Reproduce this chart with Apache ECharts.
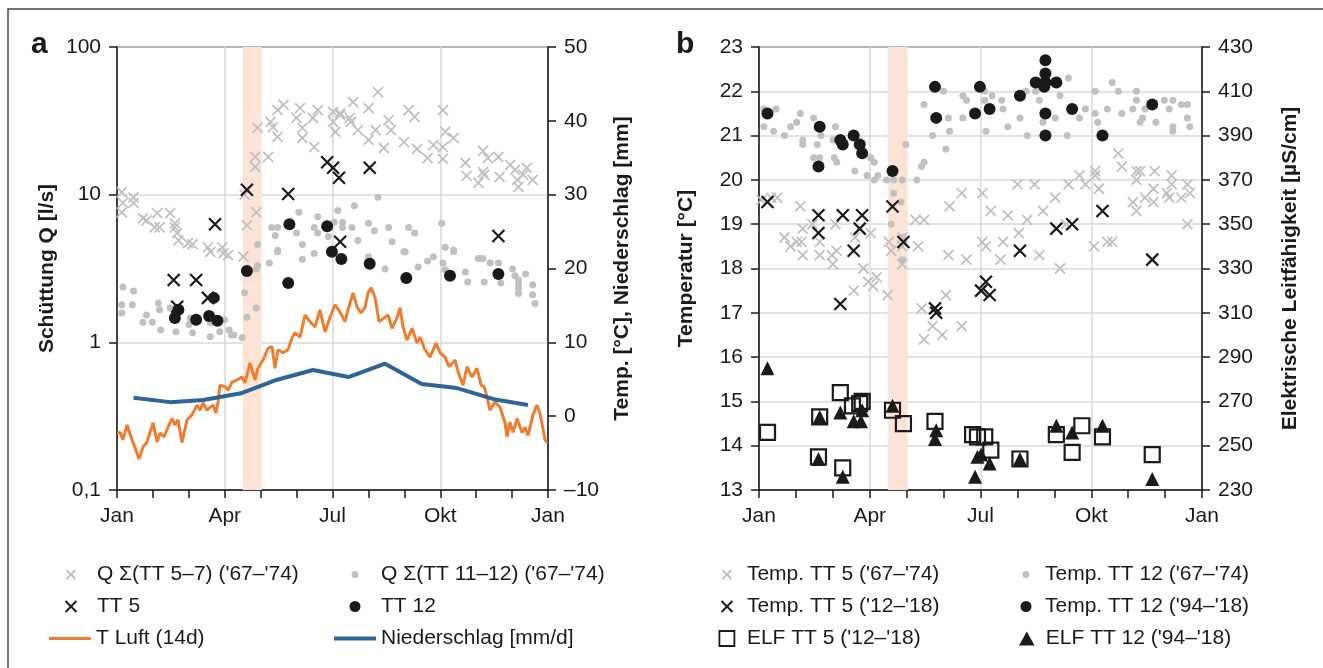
<!DOCTYPE html>
<html>
<head>
<meta charset="utf-8">
<script src="https://cdn.jsdelivr.net/npm/echarts@6/dist/echarts.min.js"></script>
<style>
  html, body { margin: 0; padding: 0; background: #fff; }
  #chart { width: 1323px; height: 668px; }
</style>
</head>
<body>
<div id="chart"></div>
<script>
// Achsenbeschriftung der Monatsachse (0..12 Monate)
const monthLabels = ['Jan', '', '', 'Apr', '', '', 'Jul', '', '', 'Okt', '', '', 'Jan'];
// Probenahmezeitraum (Monate), rot hinterlegt
const sampleBand = [3.5, 4.03];

// ---- Panel a: Schüttung Q [l/s], Werte als [Tag im Jahr, Q]
const qTT57 = [
  [4, 10.4], [5, 8.8], [4, 7.6], [14, 9.6], [14, 8.8], [22, 6.9], [25, 6.7], [34, 7.5], [32, 6.0], [36, 6.0],
  [45, 7.5], [49, 6.4], [49, 6.0], [51, 5.5], [52, 4.9], [60, 4.7], [64, 4.6], [77, 4.4], [79, 4.1], [89, 4.4],
  [90, 4.0], [94, 3.9], [107, 3.8], [110, 6.2], [108, 10.0], [118, 7.6], [117, 18.0], [117, 15.4], [128, 18.0],
  [119, 28.3], [130, 31.1], [132, 28.7], [136, 37.4], [141, 40.5], [136, 24.6], [152, 33.1], [155, 38.6],
  [157, 28.3], [157, 24.2], [166, 33.1], [170, 37.4], [167, 21.0], [183, 36.3], [183, 31.1], [189, 34.6],
  [185, 26.6], [197, 33.1], [189, 35.7], [200, 42.4], [213, 38.6], [221, 49.5], [198, 31.1], [204, 27.4],
  [213, 23.5], [219, 27.4], [226, 20.7], [230, 32.0], [232, 27.4], [243, 22.7], [247, 37.4], [252, 33.6],
  [254, 20.4], [263, 17.7], [268, 21.7], [276, 37.4], [276, 21.0], [276, 17.5], [278, 26.6], [285, 24.2],
  [295, 16.4], [296, 13.4], [306, 12.0], [310, 19.8], [310, 14.2], [311, 13.6], [314, 17.7], [323, 18.0],
  [324, 13.2], [333, 15.9], [337, 14.7], [339, 12.6], [340, 11.3], [344, 13.6], [347, 15.2], [352, 12.6]
];
const qTT1112 = [
  [5, 2.37], [14, 2.23], [4, 1.80], [4, 1.58], [13, 1.80], [22, 1.37], [25, 1.53], [30, 1.37], [35, 1.85],
  [36, 1.66], [37, 1.21], [45, 1.71], [50, 1.18], [61, 1.32], [62, 1.46], [64, 1.16], [79, 1.09], [79, 1.36],
  [87, 1.18], [91, 1.42], [95, 1.21], [97, 1.12], [99, 1.12], [106, 1.08], [108, 2.17], [110, 1.48],
  [118, 1.71], [118, 3.14], [119, 3.3], [129, 3.45], [136, 4.1], [157, 3.65], [167, 4.0],
  [119, 4.6], [131, 6.0], [136, 6.0], [134, 5.3], [136, 4.2], [152, 5.5], [154, 7.6], [157, 4.6], [167, 6.0],
  [170, 7.1], [170, 5.5], [179, 5.2], [184, 6.5], [187, 7.8], [191, 6.5], [191, 6.0], [201, 8.4], [199, 6.0],
  [204, 4.9], [213, 6.4], [218, 5.7], [221, 9.6], [230, 6.0], [233, 4.8], [243, 4.1], [247, 6.0], [252, 5.5],
  [275, 6.4], [278, 4.4], [285, 4.2], [306, 3.7], [310, 3.7], [213, 3.8], [227, 3.14], [244, 4.1], [255, 3.24],
  [263, 3.56], [268, 3.8], [276, 3.45], [278, 3.1], [285, 4.1], [295, 3.0], [297, 2.56], [307, 3.7],
  [311, 2.56], [316, 3.45], [323, 3.45], [325, 2.52], [335, 3.14], [337, 2.82], [340, 2.64], [340, 2.45],
  [340, 2.31], [340, 2.14], [346, 2.9], [352, 2.45], [352, 2.1], [354, 1.83]
];
const qTT5 = [
  [48, 2.64], [67, 2.64], [77, 2.0], [51, 1.74], [83, 6.3], [110, 10.8], [145, 10.1], [178, 16.6],
  [183, 15.2], [188, 13.0], [189, 4.8], [214, 15.2], [323, 5.25]
];
const qTT12 = [
  [49, 1.46], [52, 1.66], [67, 1.42], [78, 1.51], [85, 1.40], [82, 2.0], [110, 3.04], [145, 2.52],
  [146, 6.3], [178, 6.1], [182, 4.1], [190, 3.67], [214, 3.4], [245, 2.73], [282, 2.82], [323, 2.9]
];
// Lufttemperatur (14 d) [°C]
const tLuft = [
  [0, -2.3], [2.5, -2.2], [5, -3.2], [8.5, -1.2], [12.7, -3.2], [16, -4.6], [18.6, -5.8], [22, -4.2],
  [25.4, -3.5], [28, -2.2], [30.5, -0.9], [34, -3.5], [36.4, -2.3], [39.8, -2.8], [43.2, -1.5], [46.6, -0.3],
  [49.1, -1.2], [51.7, -0.5], [55, -3.6], [59.3, -0.5], [63.5, 0.2], [67.8, 1.5], [70.3, 0.8], [72.8, 1.8],
  [76.2, 0.8], [78.8, 1.2], [81.3, 1.5], [83.8, 0.4], [85.5, 1.8], [87.2, 4.2], [91.5, 4.0], [94, 3.5],
  [97.4, 4.6], [101.6, 4.9], [105.9, 5.3], [108.4, 4.5], [112.6, 7.2], [116.9, 4.9], [119.4, 6.5],
  [123.6, 7.6], [127.9, 9.2], [131.3, 9.4], [133.8, 6.5], [136.4, 9.0], [140.6, 8.6], [144.8, 9.0],
  [148.2, 10.6], [150.7, 11.3], [155, 10.7], [159.2, 13.7], [163.4, 12.8], [167.7, 12.1], [171.9, 14.4],
  [176.2, 11.4], [180.4, 13.4], [184.6, 15.1], [188.9, 14.1], [193.1, 12.8], [195.6, 14.4], [199.9, 16.7],
  [203.3, 14.8], [206.6, 14.0], [210, 14.7], [212.6, 16.7], [215.1, 17.4], [218.5, 16.1], [221.9, 12.8],
  [227, 13.4], [229.5, 13.7], [232.9, 11.9], [237.1, 13.3], [239.7, 14.7], [242.2, 12.1], [245.6, 10.3],
  [249.8, 11.9], [254.1, 9.9], [256.6, 10.7], [260.8, 9.0], [265.1, 8.0], [270.2, 9.9], [273.5, 8.6],
  [277.8, 8.0], [281.2, 6.7], [286.3, 7.6], [288.8, 6.0], [293, 4.2], [296.4, 6.7], [300.6, 5.3],
  [304.9, 6.5], [308.3, 4.2], [310.8, 4.0], [313.4, 2.6], [315.9, 0.8], [320.1, 1.9], [324.4, 1.2],
  [328.6, -0.9], [330.3, -2.8], [332.8, -0.8], [335.4, -2.2], [338.8, -0.3], [343, -2.2], [345.5, -1.5],
  [348.1, -2.6], [352.3, 0.2], [355.7, 1.5], [358.2, 0.4], [362.5, -3.2], [364.2, -3.6]
];
// Niederschlag [mm/d], Monatsmittel
const niederschlag = [
  [14, 2.5], [45, 1.9], [73, 2.2], [105, 3.1], [135, 4.9], [166, 6.25], [196, 5.3], [227, 7.1],
  [258, 4.35], [288, 3.8], [319, 2.3], [348, 1.5]
];

// ---- Panel b: Temperatur [°C] und Leitfähigkeit [µS/cm]
const tempTT5Alt = [
  [2, 19.55], [10, 19.6], [15, 19.6], [34, 19.4], [21, 18.7], [26, 18.5], [31, 18.6], [35, 18.6], [36, 18.9],
  [36, 18.3], [44, 19.0], [50, 18.6], [50, 18.3], [60, 18.3], [63, 19.0], [64, 18.4], [61, 18.1], [79, 18.7],
  [86, 18.0], [92, 18.8], [107, 18.6], [109, 18.4], [118, 18.7], [118, 18.5], [129, 19.1], [136, 19.1],
  [131, 18.5], [157, 19.4], [167, 19.7], [156, 18.3], [171, 18.2], [90, 17.7], [94, 17.6], [97, 17.8],
  [78, 17.5], [106, 17.4], [118, 18.1], [134, 17.1], [143, 16.7], [136, 16.4], [151, 16.5], [154, 17.4],
  [167, 16.7], [184, 19.7], [191, 19.3], [205, 19.2], [214, 18.8], [221, 19.1], [234, 19.3], [213, 19.9],
  [227, 19.9], [244, 19.6], [255, 19.9], [264, 20.1], [269, 19.9], [277, 20.2], [277, 20.1], [280, 19.8],
  [296, 20.6], [299, 20.3], [311, 20.2], [314, 20.2], [326, 20.2], [311, 20.0], [308, 19.5], [311, 19.3],
  [318, 19.6], [325, 19.8], [325, 19.5], [336, 19.7], [340, 20.1], [340, 19.9], [338, 19.6], [348, 19.6],
  [353, 19.9], [355, 19.7], [353, 19.0], [184, 18.6], [187, 18.5], [201, 18.6], [199, 18.2], [231, 18.3],
  [248, 18.0], [276, 18.5], [287, 18.6], [291, 18.6], [253, 19.0]
];
const tempTT12Alt = [
  [4, 21.6], [14, 21.6], [4, 21.2], [12, 21.1], [21, 21.0], [26, 21.2], [31, 21.3], [34, 21.5], [36, 20.9],
  [36, 20.8], [45, 21.4], [51, 21.0], [48, 20.8], [45, 20.5], [50, 20.5], [63, 21.2], [61, 20.9], [62, 20.5],
  [64, 20.4], [79, 20.2], [89, 20.1], [92, 20.5], [95, 20.4], [95, 20.0], [98, 20.1], [105, 20.0], [111, 20.0],
  [111, 19.7], [117, 19.5], [118, 20.0], [121, 20.8], [130, 20.0], [134, 20.3], [136, 20.4], [136, 21.7],
  [143, 21.0], [152, 22.0], [154, 20.7], [157, 21.1], [156, 21.4], [168, 21.4], [168, 21.9], [171, 21.8],
  [109, 19.0], [118, 18.7], [118, 18.2], [186, 22.0], [186, 21.8], [187, 21.1], [192, 21.9], [200, 21.8],
  [201, 21.6], [205, 21.2], [215, 21.4], [221, 21.0], [220, 22.0], [228, 22.0], [231, 21.8], [234, 21.3],
  [244, 21.4], [248, 21.9], [254, 21.0], [255, 22.3], [264, 21.4], [269, 21.6], [277, 22.0], [277, 21.5],
  [279, 21.3], [287, 21.6], [291, 22.2], [296, 22.0], [299, 21.5], [308, 21.6], [311, 22.0], [311, 21.8],
  [314, 21.3], [316, 21.4], [318, 21.6], [327, 21.3], [334, 21.8], [338, 21.6], [341, 21.8], [341, 21.2],
  [341, 21.1], [348, 21.7], [353, 21.7], [353, 21.4], [355, 21.2]
];
const tempTT5 = [
  [7, 19.5], [49, 19.2], [69, 19.2], [85, 19.2], [49, 18.8], [83, 18.9], [78, 18.4], [110, 19.4], [119, 18.6],
  [67, 17.2], [145, 17.1], [146, 17.0], [187, 17.7], [183, 17.5], [190, 17.4], [215, 18.4], [245, 18.9],
  [258, 19.0], [283, 19.3], [324, 18.2]
];
const tempTT12 = [
  [7, 21.5], [50, 21.2], [49, 20.3], [67, 20.9], [69, 20.8], [78, 21.0], [83, 20.8], [85, 20.6], [110, 20.2],
  [145, 22.1], [146, 21.4], [178, 21.5], [182, 22.1], [190, 21.6], [215, 21.9], [228, 22.2], [236, 22.7],
  [236, 22.4], [236, 22.2], [235, 22.1], [245, 22.2], [236, 21.5], [236, 21.0], [258, 21.6], [283, 21.0],
  [324, 21.7]
];
const elfTT5 = [
  [7, 256], [50, 263], [49, 245], [67, 274], [77, 268], [83, 269], [85, 270], [69, 240], [110, 266],
  [119, 260], [145, 261], [176, 255], [180, 254], [186, 254], [191, 248], [215, 244], [245, 255],
  [266, 259], [258, 247], [283, 254], [324, 246]
];
const elfTT12 = [
  [7, 285], [50, 263], [49, 244], [67, 265], [78, 261], [84, 261], [85, 266], [69, 236], [110, 268],
  [146, 257], [145, 253], [178, 236], [180, 245], [183, 246], [190, 242], [215, 244], [245, 259],
  [258, 256], [283, 259], [324, 235]
];

// Tag im Jahr -> Monat (Achse läuft gleichmäßig über 12 Monate)
const toMonth = rows => rows.map(([d, v]) => [d * 12 / 365, v]);

const FONT = '"Liberation Sans", Arial, sans-serif';
const INK = '#1a1a1a';
const GRAY = '#c0c0c0';
const GRIDC = '#d9d9d9';
const ORANGE = '#ee7d2e';
const BLUE = '#2e6599';
const CROSS = 'path://M0,0L10,10M10,0L0,10';
const SQUARE = 'path://M0,0L10,0L10,10L0,10Z';
const TRI = 'path://M5,0L10,9L0,9Z';

const axisLine = { show: true, onZero: false, lineStyle: { color: INK, width: 1.5 } };
const axisTick = { show: true, length: 8, lineStyle: { color: INK, width: 1.5 } };
const label = { fontSize: 21, color: INK, fontFamily: FONT, margin: 16 };
const nameStyle = { fontSize: 21, fontWeight: 'bold', color: INK, fontFamily: FONT };

function monthAxis(gridIndex) {
    return {
        type: 'value', gridIndex, min: 0, max: 12, interval: 1,
        axisLine, axisTick,
        axisLabel: { ...label, showMinLabel: true, showMaxLabel: true, formatter: v => monthLabels[Math.round(v)] || '' },
        splitLine: { show: true, lineStyle: { color: [GRIDC, 'rgba(0,0,0,0)', 'rgba(0,0,0,0)'], width: 1.5 } }
    };
}

function yAx(gridIndex, position, extra) {
    return Object.assign({
        gridIndex, position, nameLocation: 'middle', nameRotate: 90, nameTextStyle: nameStyle,
        axisLine, axisTick, axisLabel: { ...label },
        splitLine: { show: false }
    }, extra);
}

//散点图小工具
function scatter(name, data, x, y, symbol, size, style, z) {
    return {
        type: 'scatter', name, data: toMonth(data), xAxisIndex: x, yAxisIndex: y, symbol, symbolSize: size,
        itemStyle: Object.assign({ opacity: 1 }, style), z: z || 2, silent: true
    };
}
const hollow = (c, w) => ({ color: 'rgba(0,0,0,0)', borderColor: c, borderWidth: w });

const names = {
    q57: "Q Σ(TT 5–7) ('67–'74)", q1112: "Q Σ(TT 11–12) ('67–'74)", q5: 'TT 5', q12: 'TT 12',
    luft: 'T Luft (14d)', ns: 'Niederschlag [mm/d]',
    t5a: "Temp. TT 5 ('67–'74)", t12a: "Temp. TT 12 ('67–'74)", t5: "Temp. TT 5 ('12–'18)",
    t12: "Temp. TT 12 ('94–'18)", e5: "ELF TT 5 ('12–'18)", e12: "ELF TT 12 ('94–'18)"
};

const band = {
    silent: true, itemStyle: { color: '#fbe4d6' },
    data: [[{ xAxis: sampleBand[0] }, { xAxis: sampleBand[1] }]]
};

// Legenden: [Name, Iconmitte x, Textbeginn x, Zeilenmitte y, Iconhöhe, Icon, Stil, Linie?]
const legendItems = [
    [names.q57, 70, 96, 573, 9, CROSS, hollow(GRAY, 1.8)],
    [names.q5, 70, 96, 605, 11, CROSS, hollow(INK, 2)],
    [names.luft, 70, 96, 637, 3, 'rect', { color: ORANGE }, true],
    [names.q1112, 355, 381, 573, 7, 'circle', { color: GRAY }],
    [names.q12, 355, 381, 605, 11, 'circle', { color: INK }],
    [names.ns, 355, 381, 637, 4, 'rect', { color: BLUE }, true],
    [names.t5a, 726, 746, 573, 9, CROSS, hollow(GRAY, 1.8)],
    [names.t5, 726, 746, 605, 11, CROSS, hollow(INK, 2)],
    [names.e5, 726, 746, 637, 15, SQUARE, hollow(INK, 1.8)],
    [names.t12a, 1026, 1045, 573, 7, 'circle', { color: GRAY }],
    [names.t12, 1026, 1045, 605, 11, 'circle', { color: INK }],
    [names.e12, 1026, 1045, 637, 14, TRI, { color: INK }]
];

function legendOf([name, cx, tx, cy, h, icon, style, isLine]) {
    const w = 2 * (tx - cx - 5);
    const visW = isLine ? w : h;
    return {
        data: [{ name, icon, itemStyle: style }],
        left: cx - visW / 2, top: cy - 9, itemWidth: w, itemHeight: h, padding: 0, itemGap: 0,
        selectedMode: false, textStyle: { fontSize: 21, color: INK, fontFamily: FONT }
    };
}

const chart = echarts.init(document.getElementById('chart'));
chart.setOption({
    animation: false,
    backgroundColor: '#fff',
    grid: [
        { left: 117, right: 775, top: 47, bottom: 178, show: true, borderColor: INK, borderWidth: 1.5, outerBoundsMode: 'none' },
        { left: 759, right: 121, top: 47, bottom: 178, show: true, borderColor: INK, borderWidth: 1.5, outerBoundsMode: 'none' }
    ],
    xAxis: [monthAxis(0), monthAxis(1)],
    yAxis: [
        yAx(0, 'left', {
            type: 'log', logBase: 10, min: 0.1, max: 100, name: 'Schüttung Q [l/s]', nameGap: 59,
            axisLabel: { ...label, formatter: v => String(+v.toPrecision(4)).replace('.', ',') },
            splitLine: { show: true, lineStyle: { color: GRIDC, width: 1.5 } }
        }),
        yAx(0, 'right', {
            type: 'value', min: -10, max: 50, interval: 10, name: 'Temp. [°C], Niederschlag [mm]', nameGap: 64,
            axisLabel: { ...label, formatter: v => String(v).replace('-', '–') }
        }),
        yAx(1, 'left', {
            type: 'value', min: 13, max: 23, interval: 1, name: 'Temperatur [°C]', nameGap: 62,
            splitLine: { show: true, lineStyle: { color: GRIDC, width: 1.5 } }
        }),
        yAx(1, 'right', {
            type: 'value', min: 230, max: 430, interval: 20, name: 'Elektrische Leitfähigkeit [µS/cm]', nameGap: 78
        })
    ],
    legend: legendItems.map(legendOf),
    graphic: [
        { type: 'polyline', shape: { points: [[8, 668], [8, 9], [1323, 9]] }, style: { stroke: '#444', lineWidth: 1.5, fill: null }, silent: true },
        { type: 'text', left: 31, top: 30, style: { text: 'a', font: 'bold 30px ' + FONT, fill: INK } },
        { type: 'text', left: 676, top: 30, style: { text: 'b', font: 'bold 30px ' + FONT, fill: INK } }
    ],
    series: [
        // Panel a
        Object.assign(scatter(names.q57, qTT57, 0, 0, CROSS, 10, hollow(GRAY, 1.8)), { markArea: band }),
        scatter(names.q1112, qTT1112, 0, 0, 'circle', 7, { color: GRAY }),
        scatter(names.q5, qTT5, 0, 0, CROSS, 12, hollow(INK, 2.2), 3),
        scatter(names.q12, qTT12, 0, 0, 'circle', 12, { color: INK }, 3),
        {
            type: 'line', name: names.luft, data: toMonth(tLuft), xAxisIndex: 0, yAxisIndex: 1,
            symbol: 'none', lineStyle: { color: ORANGE, width: 3 }, itemStyle: { color: ORANGE }, z: 4, silent: true
        },
        {
            type: 'line', name: names.ns, data: toMonth(niederschlag), xAxisIndex: 0, yAxisIndex: 1,
            symbol: 'none', lineStyle: { color: BLUE, width: 4 }, itemStyle: { color: BLUE }, z: 5, silent: true
        },
        // Panel b
        Object.assign(scatter(names.t5a, tempTT5Alt, 1, 2, CROSS, 10, hollow(GRAY, 1.8)), { markArea: band }),
        scatter(names.t12a, tempTT12Alt, 1, 2, 'circle', 7, { color: GRAY }),
        scatter(names.t5, tempTT5, 1, 2, CROSS, 12, hollow(INK, 2.2), 3),
        scatter(names.t12, tempTT12, 1, 2, 'circle', 12, { color: INK }, 3),
        scatter(names.e5, elfTT5, 1, 3, 'rect', 15, hollow(INK, 2.2), 3),
        scatter(names.e12, elfTT12, 1, 3, 'triangle', 14, { color: INK }, 4)
    ]
});
</script>
</body>
</html>
